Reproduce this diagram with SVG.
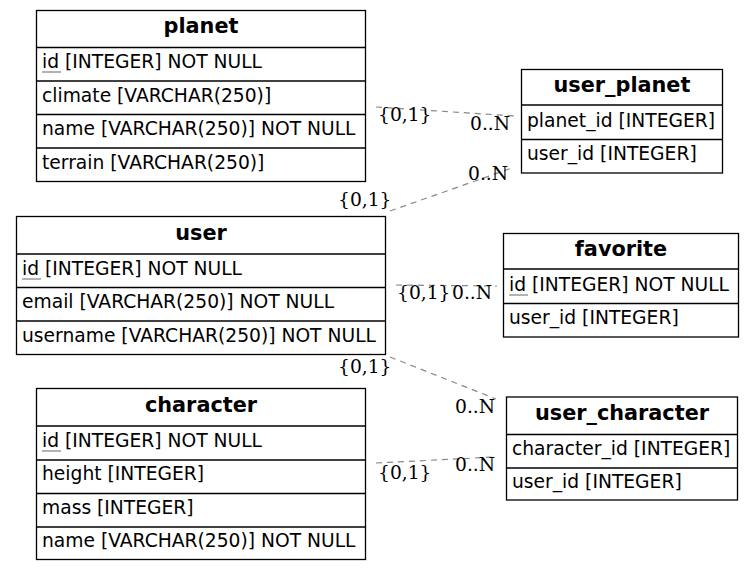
<svg xmlns="http://www.w3.org/2000/svg" width="755" height="571" viewBox="0 0 755 571">
  <style>
    .box { fill: #fff; stroke: #000; stroke-width: 1.3; }
    .sep { stroke: #000; stroke-width: 1.3; }
    .title { font-family: "DejaVu Sans", sans-serif; font-weight: bold; font-size: 20.8px; text-anchor: middle; fill: #000; }
    .col { font-family: "DejaVu Sans", sans-serif; font-size: 18.7px; fill: #000; }
    .pk { stroke: #666; stroke-width: 1; }
    .edge { fill: none; stroke: #888; stroke-width: 1.2; stroke-dasharray: 6 5; }
    .card { font-family: "DejaVu Serif", serif; font-size: 18.7px; fill: #000; }
  </style>
  <rect width="755" height="571" fill="#fff"/>

  <g id="connectors">
    <path class="edge" d="M376,107 L515,116"/>
    <path class="edge" d="M390,211 L512,168"/>
    <path class="edge" d="M396,285 L497,286"/>
    <path class="edge" d="M390,357 L496,399"/>
    <path class="edge" d="M376,463 L495,457"/>
    <text class="card" x="378" y="121">{0,1}</text>
    <text class="card" x="470" y="130">0..N</text>
    <text class="card" x="338" y="206">{0,1}</text>
    <text class="card" x="468" y="180">0..N</text>
    <text class="card" x="397" y="299">{0,1}</text>
    <text class="card" x="452" y="299">0..N</text>
    <text class="card" x="338" y="373">{0,1}</text>
    <text class="card" x="455" y="413">0..N</text>
    <text class="card" x="378" y="479">{0,1}</text>
    <text class="card" x="455" y="471">0..N</text>
  </g>

  <g id="planet">
    <rect class="box" x="36.5" y="10.5" width="329" height="171"/>
    <line class="sep" x1="36.5" y1="47.5" x2="365.5" y2="47.5"/>
    <line class="sep" x1="36.5" y1="81" x2="365.5" y2="81"/>
    <line class="sep" x1="36.5" y1="114.5" x2="365.5" y2="114.5"/>
    <line class="sep" x1="36.5" y1="148" x2="365.5" y2="148"/>
    <text class="title" x="201" y="33">planet</text>
    <text class="col" x="42" y="68">id [INTEGER] NOT NULL</text>
    <line class="pk" x1="42" y1="72" x2="61" y2="72"/>
    <text class="col" x="42" y="102">climate [VARCHAR(250)]</text>
    <text class="col" x="42" y="135">name [VARCHAR(250)] NOT NULL</text>
    <text class="col" x="42" y="169">terrain [VARCHAR(250)]</text>
  </g>

  <g id="user_planet">
    <rect class="box" x="521.5" y="69.5" width="201" height="103.5"/>
    <line class="sep" x1="521.5" y1="105" x2="722.5" y2="105"/>
    <line class="sep" x1="521.5" y1="139.5" x2="722.5" y2="139.5"/>
    <text class="title" x="622" y="92">user_planet</text>
    <text class="col" x="527" y="127">planet_id [INTEGER]</text>
    <text class="col" x="527" y="160">user_id [INTEGER]</text>
  </g>

  <g id="user">
    <rect class="box" x="16.5" y="216.5" width="369" height="138"/>
    <line class="sep" x1="16.5" y1="254" x2="385.5" y2="254"/>
    <line class="sep" x1="16.5" y1="287.5" x2="385.5" y2="287.5"/>
    <line class="sep" x1="16.5" y1="321" x2="385.5" y2="321"/>
    <text class="title" x="201" y="240">user</text>
    <text class="col" x="22" y="275">id [INTEGER] NOT NULL</text>
    <line class="pk" x1="22" y1="279" x2="41" y2="279"/>
    <text class="col" x="22" y="308">email [VARCHAR(250)] NOT NULL</text>
    <text class="col" x="22" y="342">username [VARCHAR(250)] NOT NULL</text>
  </g>

  <g id="favorite">
    <rect class="box" x="503.5" y="233.5" width="235" height="103.5"/>
    <line class="sep" x1="503.5" y1="269" x2="738.5" y2="269"/>
    <line class="sep" x1="503.5" y1="303.5" x2="738.5" y2="303.5"/>
    <text class="title" x="621" y="256">favorite</text>
    <text class="col" x="509" y="291">id [INTEGER] NOT NULL</text>
    <line class="pk" x1="509" y1="295" x2="528" y2="295"/>
    <text class="col" x="509" y="324">user_id [INTEGER]</text>
  </g>

  <g id="character">
    <rect class="box" x="36.5" y="388.5" width="329" height="171"/>
    <line class="sep" x1="36.5" y1="426" x2="365.5" y2="426"/>
    <line class="sep" x1="36.5" y1="460" x2="365.5" y2="460"/>
    <line class="sep" x1="36.5" y1="493.5" x2="365.5" y2="493.5"/>
    <line class="sep" x1="36.5" y1="527" x2="365.5" y2="527"/>
    <text class="title" x="201" y="412">character</text>
    <text class="col" x="42" y="447">id [INTEGER] NOT NULL</text>
    <line class="pk" x1="42" y1="451" x2="61" y2="451"/>
    <text class="col" x="42" y="480">height [INTEGER]</text>
    <text class="col" x="42" y="514">mass [INTEGER]</text>
    <text class="col" x="42" y="547">name [VARCHAR(250)] NOT NULL</text>
  </g>

  <g id="user_character">
    <rect class="box" x="506.5" y="397" width="231" height="103"/>
    <line class="sep" x1="506.5" y1="434.5" x2="737.5" y2="434.5"/>
    <line class="sep" x1="506.5" y1="468" x2="737.5" y2="468"/>
    <text class="title" x="622" y="420">user_character</text>
    <text class="col" x="512" y="455">character_id [INTEGER]</text>
    <text class="col" x="512" y="488">user_id [INTEGER]</text>
  </g>
</svg>
